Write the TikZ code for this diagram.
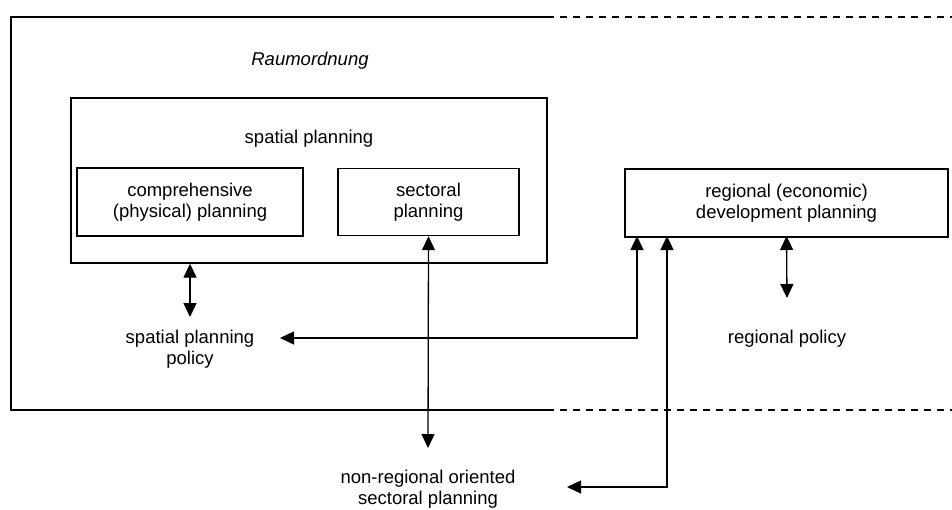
\documentclass[tikz,border=0pt]{standalone}
\usepackage{fontspec}
\setmainfont{Liberation Sans}
\usetikzlibrary{arrows.meta}
\begin{document}
\begin{tikzpicture}[x=1pt,y=-1pt,
  box/.style={draw,line width=1.4pt,rectangle,inner sep=0pt},
  lbl/.style={align=center,font=\fontsize{18.5}{20.5}\selectfont,inner sep=0pt},
  dbl/.style={line width=1.3pt,{Triangle[length=14pt,width=13pt]}-{Triangle[length=14pt,width=13pt]}},
  frame/.style={line width=1.6pt},
  dframe/.style={line width=1.6pt,dash pattern=on 7pt off 6pt}]
\useasboundingbox (0,0) rectangle (952,509);
% outer frame
\coordinate (tl) at (11,17);
\coordinate (bl) at (11,410);
\coordinate (tm) at (547,17);
\coordinate (bm) at (547,410);
\coordinate (tr) at (952,17);
\coordinate (br) at (952,410);
\draw[frame] (tm) -- (tl) -- (bl) -- (bm);
\draw[dframe] (tm) -- (tr);
\draw[dframe] (bm) -- (br);
\node[lbl,font=\fontsize{18.5}{20.5}\selectfont\itshape] (raum) at (310,61) {Raumordnung};
% boxes
\node[box,minimum width=476pt,minimum height=165pt] (spatial) at (309,180.5) {};
\node[lbl] (spt) at (309,139) {spatial planning};
\node[box,minimum width=226pt,minimum height=68pt,lbl] (comp) at (190,202) {comprehensive\\(physical) planning};
\node[box,minimum width=181pt,minimum height=67pt,lbl] (sect) at (428.5,202) {sectoral\\planning};
\node[box,minimum width=323pt,minimum height=68pt,lbl] (reg) at (786.5,203) {regional (economic)\\development planning};
% texts
\node[lbl] (spp) at (190,349) {spatial planning\\policy};
\node[lbl] (rpol) at (787,339) {regional policy};
\node[lbl] (nonreg) at (428,489) {non-regional oriented\\sectoral planning};
% connector ends
\coordinate (a1) at (190,317);
\coordinate (a2) at (428,448);
\coordinate (a3) at (787,298);
\coordinate (h1) at (280,338);
\coordinate (h2) at (567,487);
\coordinate (r1) at (637,236);
\coordinate (r2) at (667,236);
% connectors
\draw[dbl] (comp.south |- spatial.south) -- (a1);
\draw[dbl] (sect.south) -- (a2);
\draw[dbl] (reg.south |- r1) -- (a3);
\draw[dbl] (h1) -- (h1 -| r1) -- (r1);
\draw[dbl] (h2) -- (h2 -| r2) -- (r2);
\end{tikzpicture}
\end{document}
